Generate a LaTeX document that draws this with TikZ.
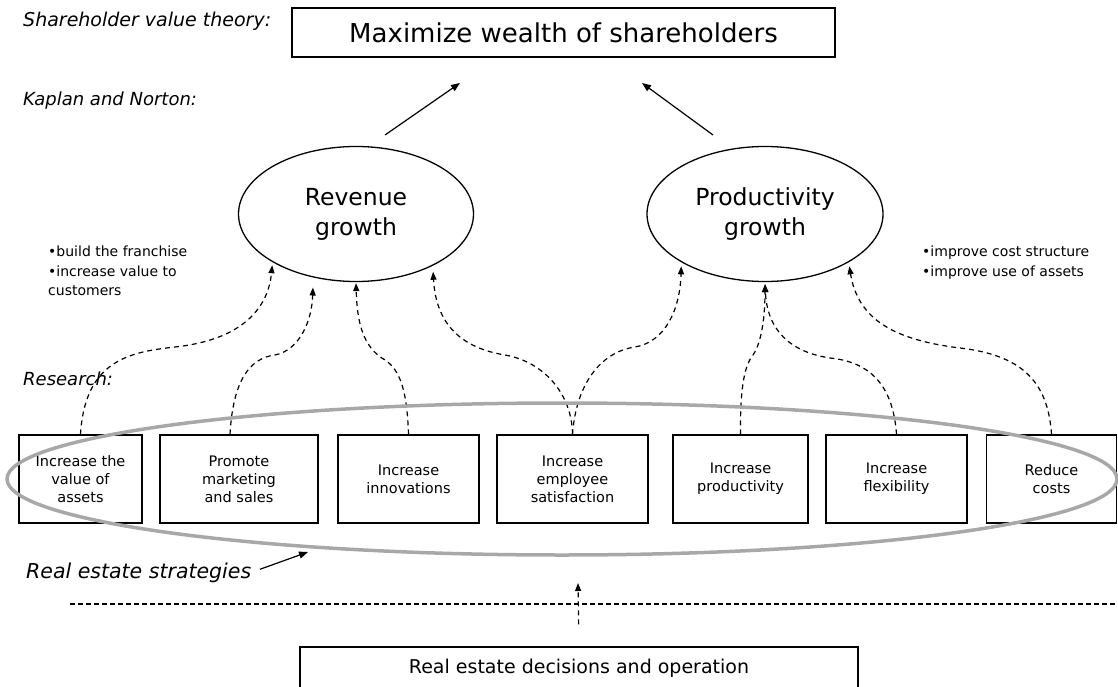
\documentclass[tikz,border=0pt]{standalone}
\usepackage{fontspec}
\setmainfont{DejaVu Sans}
\usetikzlibrary{arrows.meta}
\usetikzlibrary{shapes.geometric}
\usetikzlibrary{positioning}
\definecolor{ringgray}{RGB}{168,168,168}

\begin{document}
\begin{tikzpicture}[x=1pt,y=-1pt,
    strategy/.style={draw,line width=1.4pt,minimum height=88pt,inner sep=0pt,align=center,
        font=\fontsize{14.5}{18}\selectfont},
    growth/.style={ellipse,draw,line width=1.3pt,minimum width=235pt,minimum height=135pt,
        align=center,font=\fontsize{23.5}{30}\selectfont},
    levellabel/.style={anchor=base west,inner sep=0pt,font=\fontsize{18}{22}\selectfont\itshape},
    bullets/.style={anchor=north west,inner sep=0pt,align=left,font=\fontsize{14}{19.5}\selectfont},
    dashedlink/.style={dash pattern=on 5pt off 4pt,line width=1.2pt,-{Triangle[length=8pt,width=6pt]}},
    solidlink/.style={line width=1.2pt,-{Triangle[length=9pt,width=7pt]}}
    ]
\useasboundingbox (0,0) rectangle (1118,687);

% levels
\node[levellabel,font=\fontsize{19}{22}\selectfont\itshape] (svt) at (23,27) {Shareholder value theory:};
\node[levellabel] (kn) at (23,106) {Kaplan and Norton:};
\node[levellabel] (res) at (23,385) {Research:};
\node[levellabel,font=\fontsize{20.5}{24}\selectfont\itshape] (strat) at (26,578) {Real estate strategies};

% top goal
\node[draw,line width=1.4pt,minimum width=543pt,minimum height=49pt,inner sep=0pt,
      font=\fontsize{26}{30}\selectfont] (goal) at (563.5,32.5) {Maximize wealth of shareholders};

% Kaplan and Norton
\node[growth] (rev) at (356,214) {Revenue\\growth};
\node[growth,minimum width=236pt] (prod) at (765,214) {Productivity\\growth};

\node[bullets] (revnotes) at (48,246) {\textbullet build the franchise\\\textbullet increase value to\\customers};
\node[bullets] (prodnotes) at (922,246) {\textbullet improve cost structure\\\textbullet improve use of assets};

\coordinate (rev-up) at (385,135);
\coordinate (goal-l) at (460,83);
\coordinate (prod-up) at (713,135);
\coordinate (goal-r) at (642,83);
\draw[solidlink] (rev-up) -- (goal-l);
\draw[solidlink] (prod-up) -- (goal-r);

% research boxes
\node[strategy,minimum width=123pt] (b1) at (80.5,479) {Increase the\\value of\\assets};
\node[strategy,minimum width=158pt] (b2) at (239,479) {Promote\\marketing\\and sales};
\node[strategy,minimum width=141pt] (b3) at (408.5,479) {Increase\\innovations};
\node[strategy,minimum width=151pt] (b4) at (572.5,479) {Increase\\employee\\satisfaction};
\node[strategy,minimum width=135pt] (b5) at (740.5,479) {Increase\\productivity};
\node[strategy,minimum width=141pt] (b6) at (896.5,479) {Increase\\flexibility};
\node[strategy,minimum width=130pt] (b7) at (1051.5,479) {Reduce\\costs};

% dashed links
\draw[dashedlink,shorten >=3pt] (b1.north) .. controls (85,360) and (130,352) .. (175,347)
    .. controls (240,340) and (268,310) .. (rev.210);
\draw[dashedlink,shorten >=10pt] ([xshift=-9pt]b2.north) .. controls (233,380) and (250,358) .. (275,355)
    .. controls (300,350) and (312,320) .. (rev.236);
\draw[dashedlink,shorten >=1pt] (b3.north) .. controls (407,390) and (400,370) .. (385,360)
    .. controls (362,347) and (357,320) .. (rev.south);
\draw[dashedlink,shorten >=6pt] (b4.north) .. controls (572,395) and (545,362) .. (505,355)
    .. controls (462,348) and (436,325) .. (rev.326);
\draw[dashedlink,shorten >=4pt] (b4.north) .. controls (576,385) and (600,352) .. (635,347)
    .. controls (665,342) and (680,310) .. (prod.210);
\draw[dashedlink,shorten >=2pt] (b5.north) .. controls (740,385) and (745,365) .. (753,355)
    .. controls (762,342) and (765,315) .. (prod.south);
\draw[dashedlink,shorten >=2pt] (b6.north) .. controls (893,385) and (870,362) .. (830,358)
    .. controls (790,352) and (767,330) .. (prod.south);
\draw[dashedlink,shorten >=4pt] (b7.north) .. controls (1048,380) and (1020,355) .. (960,348)
    .. controls (895,340) and (858,320) .. (prod.330);

% real estate strategies ring
\draw[ringgray,line width=3.5pt] (562,479) ellipse [x radius=555, y radius=76];
\coordinate (ring-s) at (308,552);
\draw[solidlink,shorten <=9pt] (strat.east) -- (ring-s);

% operation level
\draw[dash pattern=on 5pt off 3pt,line width=1.3pt] (70,604) -- (1118,604);
\node[draw,line width=1.4pt,minimum width=558pt,minimum height=43pt,inner sep=0pt,
      font=\fontsize{19}{22}\selectfont] (dec) at (579,668.5) {Real estate decisions and operation};
\coordinate (up-tip) at (578,583);
\draw[dashedlink,shorten <=22pt] (dec.north) -- (up-tip);
\end{tikzpicture}
\end{document}
